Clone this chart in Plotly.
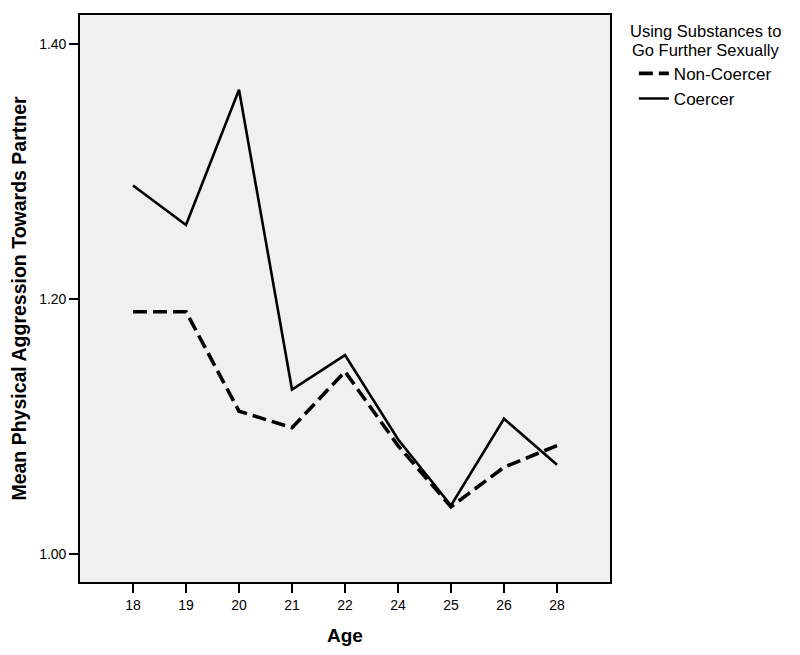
import plotly.graph_objects as go

# Datos
ages = ["18", "19", "20", "21", "22", "24", "25", "26", "28"]
non_coercer = [1.190, 1.190, 1.112, 1.099, 1.143, 1.085, 1.037, 1.068, 1.085]
coercer = [1.289, 1.258, 1.364, 1.129, 1.156, 1.090, 1.038, 1.106, 1.070]
y_ticks = [1.00, 1.20, 1.40]
y_tick_labels = ["1.00", "1.20", "1.40"]
legend_title = ["Using Substances to", "Go Further Sexually"]

font_family = "Liberation Sans, Arial, sans-serif"

fig = go.Figure()

fig.add_trace(go.Scatter(
    x=ages,
    y=non_coercer,
    mode="lines",
    name="Non-Coercer",
    line=dict(color="black", width=3.6, dash="14px,6px"),
))

fig.add_trace(go.Scatter(
    x=ages,
    y=coercer,
    mode="lines",
    name="Coercer",
    line=dict(color="black", width=2.6),
))

# Título de la leyenda (centrado, dos líneas)
for i, line in enumerate(legend_title):
    fig.add_annotation(
        text=line,
        xref="paper", yref="paper",
        x=1.18, y=1.0 - i * 0.0335,
        xanchor="center", yanchor="top",
        showarrow=False,
        font=dict(size=16.5),
        yshift=-5,
    )

# La página añade 8px de margen al body: la figura ocupa 792x647
fig.update_layout(
    width=792,
    height=647,
    margin=dict(l=72, r=190, t=7, b=73),
    paper_bgcolor="white",
    plot_bgcolor="#f0f0f0",
    font=dict(family=font_family, color="black", size=14),
    showlegend=True,
    legend=dict(
        x=1.045,
        xanchor="left",
        y=0.928,
        yanchor="top",
        font=dict(size=17),
        bgcolor="rgba(0,0,0,0)",
        itemwidth=30,
        tracegroupgap=0,
    ),
)

fig.update_xaxes(
    type="category",
    range=[-1, 9],
    automargin=False,
    showgrid=False,
    zeroline=False,
    showline=True,
    linecolor="black",
    linewidth=1.6,
    mirror=True,
    ticks="outside",
    ticklen=9,
    tickwidth=1.6,
    tickcolor="black",
    tickfont=dict(size=14),
    title=dict(text="<b>Age</b>", font=dict(size=19), standoff=17),
)

fig.update_yaxes(
    range=[0.978, 1.4227],
    tickvals=y_ticks,
    ticktext=y_tick_labels,
    automargin=False,
    showgrid=False,
    zeroline=False,
    showline=True,
    linecolor="black",
    linewidth=1.6,
    mirror=True,
    ticks="outside",
    ticklen=9,
    tickwidth=1.6,
    tickcolor="black",
    tickfont=dict(size=14),
    title=dict(text="<b>Mean Physical Aggression Towards Partner</b>", font=dict(size=19.5), standoff=8),
)

fig.write_html("out.html")
